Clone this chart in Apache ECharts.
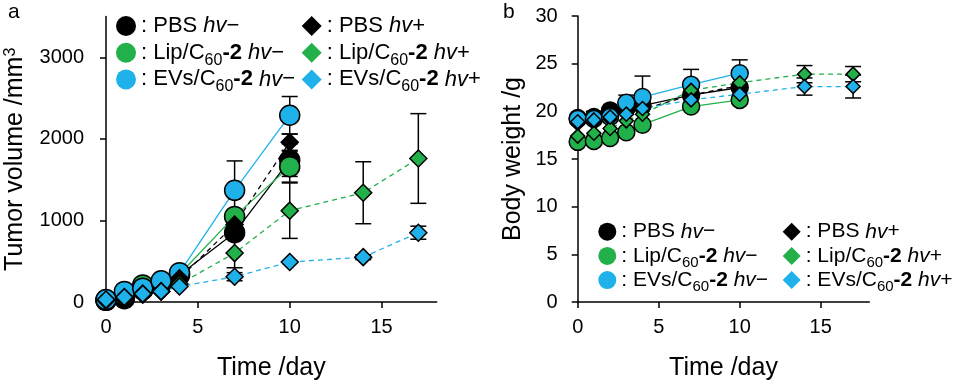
<!DOCTYPE html>
<html>
<head>
<meta charset="utf-8">
<script src="https://cdn.jsdelivr.net/npm/echarts@6/dist/echarts.min.js"></script>
<style>
  html, body { margin: 0; padding: 0; background: #fff; }
  #main { width: 957px; height: 386px; }
</style>
</head>
<body>
<div id="main"></div>
<script>
var names = ['PBS hv−', 'Lip/C60-2 hv−', 'EVs/C60-2 hv−', 'PBS hv+', 'Lip/C60-2 hv+', 'EVs/C60-2 hv+'];
var daysShort = [0, 1, 2, 3, 4, 7, 10];
var daysLong = [0, 1, 2, 3, 4, 7, 10, 14, 17];
var xTicks = [0, 5, 10, 15];
var tumorTicks = [0, 1000, 2000, 3000];

// (a) tumor volume /mm3
var tumorPBSm = [20, 40, 150, 230, 330, 850, 1740];
var tumorLipm = [20, 80, 210, 240, 340, 1050, 1660];
var tumorEVsm = [30, 130, 170, 260, 360, 1370, 2290];
var tumorPBSp = [20, 40, 90, 130, 290, 950, 1960];
var tumorLipp = [20, 50, 100, 130, 220, 600, 1120, 1340, 1760];
var tumorEVsp = [30, 60, 100, 130, 190, 310, 490, 550, 850];
var tumorErrPBSm = [0, 0, 0, 0, 0, 0, 200];
var tumorErrLipm = [0, 0, 0, 0, 0, 0, 190];
var tumorErrEVsm = [0, 0, 0, 0, 0, 360, 230];
var tumorErrPBSp = [0, 0, 0, 0, 0, 0, 100];
var tumorErrLipp = [0, 0, 0, 0, 0, 180, 340, 380, 550];
var tumorErrEVsp = [0, 0, 0, 0, 0, 50, 0, 30, 80];

// (b) body weight /g
var bwPBSm = [19.3, 19.4, 20.1, 20.3, 20.6, 21.7, 22.5];
var bwLipm = [16.8, 16.9, 17.2, 17.8, 18.6, 20.5, 21.2];
var bwEVsm = [19.2, 19.2, 19.4, 20.9, 21.5, 22.8, 24.0];
var bwPBSp = [18.7, 18.9, 19.2, 19.7, 20.2, 21.7, 22.7];
var bwLipp = [17.4, 17.7, 18.2, 19.0, 19.7, 22.2, 23.0, 23.9, 23.9];
var bwEVsp = [18.9, 19.1, 19.4, 19.7, 20.3, 21.2, 21.8, 22.6, 22.6];
var bwErrPBSm = [0, 0.6, 0, 0, 0, 0, 0];
var bwErrEVsm = [0, 0, 0, 0.8, 2.2, 1.6, 1.4]; // upper only
var bwErrLipp = [0, 0, 0, 0, 0, 0, 0, 0.9, 0.8];
var bwErrEVsp = [0, 0, 0, 0, 0, 0, 0, 0.9, 1.2];

var BLACK = '#000000', GREEN = '#22b04b', BLUE = '#1fb1e9';
var FONT = 'Liberation Sans';

var chart = echarts.init(document.getElementById('main'), null, { renderer: 'canvas' });

function lineSeries(name, idx, days, vals, color, hvPlus, size) {
  return {
    name: name,
    type: 'line',
    xAxisIndex: idx,
    yAxisIndex: idx,
    data: days.map(function (d, i) { return [d, vals[i]]; }),
    symbol: hvPlus ? 'diamond' : 'circle',
    symbolSize: hvPlus ? size - 3 : size,
    itemStyle: { color: color, borderColor: '#000', borderWidth: 1.5, opacity: 1 },
    lineStyle: { color: color, width: 1.3, type: hvPlus ? [5, 4] : 'solid' },
    z: 3
  };
}

// error bars: [day, mean, up, down]
function errData(days, vals, errs, upOnly) {
  var out = [];
  days.forEach(function (d, i) {
    if (errs[i] > 0) out.push([d, vals[i], errs[i], upOnly ? 0 : errs[i]]);
  });
  return out;
}

function errSeries(idx, data) {
  return {
    type: 'custom',
    xAxisIndex: idx,
    yAxisIndex: idx,
    silent: true,
    z: 1,
    data: data,
    encode: { x: 0, y: 1 },
    renderItem: function (params, api) {
      var x = api.value(0), m = api.value(1), up = api.value(2), dn = api.value(3);
      var top = api.coord([x, m + up]);
      var bot = api.coord([x, m - dn]);
      var st = { stroke: '#000', lineWidth: 1.5 };
      var kids = [{ type: 'line', shape: { x1: top[0], y1: top[1], x2: bot[0], y2: bot[1] }, style: st }];
      if (up > 0) kids.push({ type: 'line', shape: { x1: top[0] - 8, y1: top[1], x2: top[0] + 8, y2: top[1] }, style: st });
      if (dn > 0) kids.push({ type: 'line', shape: { x1: bot[0] - 8, y1: bot[1], x2: bot[0] + 8, y2: bot[1] }, style: st });
      return { type: 'group', children: kids };
    }
  };
}

function richName(n) {
  return ': ' + n.replace('C60', 'C{s|60}').replace('-2', '{b|-2}').replace('hv', '{i|hv}');
}

// lh: tall line box so the bottom-aligned subscript drops below the baseline
function legendBox(data, icon, left, top, fs, sfs, lh, gap, iconSize) {
  return {
    orient: 'vertical',
    left: left,
    top: top,
    padding: 0,
    itemGap: gap,
    itemWidth: iconSize,
    itemHeight: iconSize,
    selectedMode: false,
    icon: icon,
    data: data,
    itemStyle: { borderWidth: 0 },
    formatter: richName,
    textStyle: {
      fontFamily: FONT, fontSize: fs, color: '#000', lineHeight: lh,
      rich: {
        s: { fontFamily: FONT, fontSize: sfs, color: '#000', lineHeight: lh, verticalAlign: 'bottom' },
        b: { fontFamily: FONT, fontSize: fs, color: '#000', fontWeight: 'bold', lineHeight: lh },
        i: { fontFamily: FONT, fontSize: fs, color: '#000', fontStyle: 'italic', lineHeight: lh }
      }
    }
  };
}

var axisLine = { show: true, lineStyle: { color: '#000', width: 1.5 } };
var axisTick = { show: true, inside: false, length: 6, lineStyle: { color: '#000', width: 1.5 } };
var labelStyle = { color: '#000', fontFamily: FONT, fontSize: 20 };
var nameStyle = { color: '#000', fontFamily: FONT, fontSize: 25 };

function xAxis(idx) {
  return {
    type: 'value', gridIndex: idx, min: 0, max: 18, interval: 5,
    splitLine: { show: false },
    axisLine: axisLine,
    axisTick: Object.assign({ customValues: xTicks }, axisTick),
    axisLabel: Object.assign({ customValues: xTicks, margin: 15 }, labelStyle),
    name: 'Time /day', nameLocation: 'middle', nameGap: 54,
    nameTextStyle: nameStyle
  };
}

var option = {
  animation: false,
  backgroundColor: '#fff',
  grid: [
    { left: 106, top: 16.6, width: 330.7, bottom: 81.4 },
    { left: 577.7, top: 16, width: 291.6, bottom: 81 }
  ],
  xAxis: [xAxis(0), xAxis(1)],
  yAxis: [
    {
      type: 'value', gridIndex: 0, min: 0, max: 3500, interval: 1000,
      splitLine: { show: false },
      axisLine: axisLine,
      axisTick: Object.assign({ customValues: tumorTicks }, axisTick),
      axisLabel: Object.assign({ customValues: tumorTicks, margin: 22, formatter: function (v) { return String(v); } }, labelStyle),
      name: 'Tumor volume /mm{sup|3}', nameLocation: 'middle', nameGap: 78,
      nameTextStyle: Object.assign({
        rich: { sup: { fontFamily: FONT, fontSize: 16, color: '#000', verticalAlign: 'top', lineHeight: 10 } }
      }, nameStyle)
    },
    {
      type: 'value', gridIndex: 1, min: 0, max: 30, interval: 5,
      splitLine: { show: false },
      axisLine: axisLine,
      axisTick: axisTick,
      axisLabel: Object.assign({ margin: 20 }, labelStyle),
      name: 'Body weight /g', nameLocation: 'middle', nameGap: 52,
      nameTextStyle: nameStyle
    }
  ],
  legend: [
    legendBox(names.slice(0, 3), 'circle', 116, 10.5, 22, 16, 31, -4.3, 20),
    legendBox(names.slice(3), 'diamond', 301.7, 10.5, 22, 16, 31, -4.3, 20),
    legendBox(names.slice(0, 3), 'circle', 598.3, 217.2, 21, 15, 29, -4.8, 18),
    legendBox(names.slice(3), 'diamond', 782.7, 217.2, 21, 15, 29, -4.8, 18)
  ],
  graphic: [
    { type: 'text', left: 8, top: 2, style: { text: 'a', font: '21px "Liberation Sans"', fill: '#000' } },
    { type: 'text', left: 503, top: 2, style: { text: 'b', font: '21px "Liberation Sans"', fill: '#000' } }
  ],
  series: [
    errSeries(0, errData(daysShort, tumorPBSm, tumorErrPBSm)),
    errSeries(0, errData(daysShort, tumorLipm, tumorErrLipm)),
    errSeries(0, errData(daysShort, tumorEVsm, tumorErrEVsm)),
    errSeries(0, errData(daysShort, tumorPBSp, tumorErrPBSp)),
    errSeries(0, errData(daysLong, tumorLipp, tumorErrLipp)),
    errSeries(0, errData(daysLong, tumorEVsp, tumorErrEVsp)),
    lineSeries(names[0], 0, daysShort, tumorPBSm, BLACK, false, 20),
    lineSeries(names[1], 0, daysShort, tumorLipm, GREEN, false, 20),
    lineSeries(names[2], 0, daysShort, tumorEVsm, BLUE, false, 20),
    lineSeries(names[3], 0, daysShort, tumorPBSp, BLACK, true, 20),
    lineSeries(names[4], 0, daysLong, tumorLipp, GREEN, true, 20),
    lineSeries(names[5], 0, daysLong, tumorEVsp, BLUE, true, 20),

    errSeries(1, errData(daysShort, bwPBSm, bwErrPBSm)),
    errSeries(1, errData(daysShort, bwEVsm, bwErrEVsm, true)),
    errSeries(1, errData(daysLong, bwLipp, bwErrLipp)),
    errSeries(1, errData(daysLong, bwEVsp, bwErrEVsp)),
    lineSeries(names[0], 1, daysShort, bwPBSm, BLACK, false, 17),
    lineSeries(names[1], 1, daysShort, bwLipm, GREEN, false, 17),
    lineSeries(names[2], 1, daysShort, bwEVsm, BLUE, false, 17),
    lineSeries(names[3], 1, daysShort, bwPBSp, BLACK, true, 17),
    lineSeries(names[4], 1, daysLong, bwLipp, GREEN, true, 17),
    lineSeries(names[5], 1, daysLong, bwEVsp, BLUE, true, 17)
  ]
};

chart.setOption(option);
</script>
</body>
</html>
